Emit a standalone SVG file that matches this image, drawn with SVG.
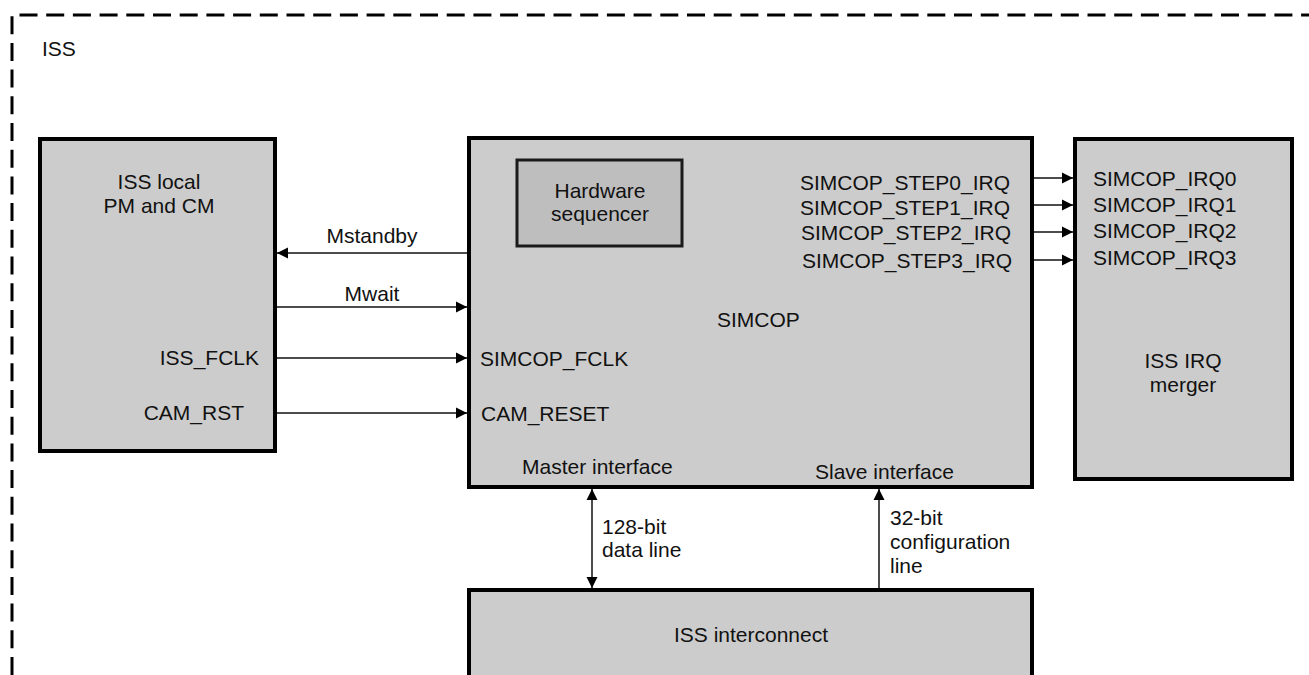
<svg xmlns="http://www.w3.org/2000/svg" width="1309" height="675" viewBox="0 0 1309 675">
  <style>
    .box { fill: #cccccc; stroke: #000; stroke-width: 4; }
    .seq { fill: #bebebf; stroke: #1a1a1a; stroke-width: 3; }
    .t { font-family: "Liberation Sans", Arial, sans-serif; font-size: 21px; fill: #111; }
    .c { text-anchor: middle; }
    .e { text-anchor: end; }
    .ln { stroke: #111; stroke-width: 1.5; fill: none; }
  </style>
  <defs>
    <marker id="ah" markerUnits="userSpaceOnUse" markerWidth="12" markerHeight="12" refX="11" refY="6" orient="auto-start-reverse">
      <path d="M0,0.5 L11,6 L0,11.5 z" fill="#000"/>
    </marker>
  </defs>
  <rect width="1309" height="675" fill="#fff"/>

  <g id="iss-boundary">
    <path d="M12,675 V15 H1309" fill="none" stroke="#000" stroke-width="3" stroke-dasharray="18 8.7"/>
    <text class="t" x="42" y="56">ISS</text>
  </g>

  <g id="iss-local">
    <rect class="box" x="40" y="139" width="235" height="312"/>
    <text class="t c" x="159" y="189">ISS local</text>
    <text class="t c" x="159" y="213">PM and CM</text>
    <text class="t e" x="259" y="365">ISS_FCLK</text>
    <text class="t e" x="244" y="420">CAM_RST</text>
  </g>

  <g id="simcop">
    <rect class="box" x="469" y="138" width="563" height="349"/>
    <text class="t" x="717" y="327">SIMCOP</text>
    <text class="t" x="800" y="190">SIMCOP_STEP0_IRQ</text>
    <text class="t" x="800" y="215">SIMCOP_STEP1_IRQ</text>
    <text class="t" x="801" y="240">SIMCOP_STEP2_IRQ</text>
    <text class="t" x="802" y="268">SIMCOP_STEP3_IRQ</text>
    <text class="t" x="480" y="366">SIMCOP_FCLK</text>
    <text class="t" x="481" y="421">CAM_RESET</text>
    <text class="t" x="522" y="474">Master interface</text>
    <text class="t" x="815" y="479">Slave interface</text>
  </g>

  <g id="hw-sequencer">
    <rect class="seq" x="517" y="160" width="165" height="86"/>
    <text class="t c" x="600" y="198">Hardware</text>
    <text class="t c" x="600" y="221">sequencer</text>
  </g>

  <g id="irq-merger">
    <rect class="box" x="1075" y="139" width="217" height="340"/>
    <text class="t" x="1093" y="186">SIMCOP_IRQ0</text>
    <text class="t" x="1093" y="212">SIMCOP_IRQ1</text>
    <text class="t" x="1093" y="238">SIMCOP_IRQ2</text>
    <text class="t" x="1093" y="265">SIMCOP_IRQ3</text>
    <text class="t c" x="1183" y="368">ISS IRQ</text>
    <text class="t c" x="1183" y="392">merger</text>
  </g>

  <g id="iss-interconnect">
    <rect class="box" x="469" y="590" width="563" height="100"/>
    <text class="t c" x="751" y="642">ISS interconnect</text>
  </g>

  <g id="connectors">
    <line class="ln" x1="467" y1="253" x2="277" y2="253" marker-end="url(#ah)"/>
    <line class="ln" x1="277" y1="307" x2="467" y2="307" marker-end="url(#ah)"/>
    <line class="ln" x1="277" y1="358" x2="467" y2="358" marker-end="url(#ah)"/>
    <line class="ln" x1="277" y1="413" x2="467" y2="413" marker-end="url(#ah)"/>
    <line class="ln" x1="1034" y1="178" x2="1073" y2="178" marker-end="url(#ah)"/>
    <line class="ln" x1="1034" y1="205" x2="1073" y2="205" marker-end="url(#ah)"/>
    <line class="ln" x1="1034" y1="232" x2="1073" y2="232" marker-end="url(#ah)"/>
    <line class="ln" x1="1034" y1="260" x2="1073" y2="260" marker-end="url(#ah)"/>
    <line class="ln" x1="592" y1="489" x2="592" y2="588" marker-start="url(#ah)" marker-end="url(#ah)"/>
    <line class="ln" x1="879" y1="588" x2="879" y2="489" marker-end="url(#ah)"/>
    <text class="t c" x="372" y="243">Mstandby</text>
    <text class="t c" x="372" y="301">Mwait</text>
    <text class="t" x="602" y="534">128-bit</text>
    <text class="t" x="602" y="557">data line</text>
    <text class="t" x="890" y="525">32-bit</text>
    <text class="t" x="890" y="549">configuration</text>
    <text class="t" x="890" y="573">line</text>
  </g>
</svg>
